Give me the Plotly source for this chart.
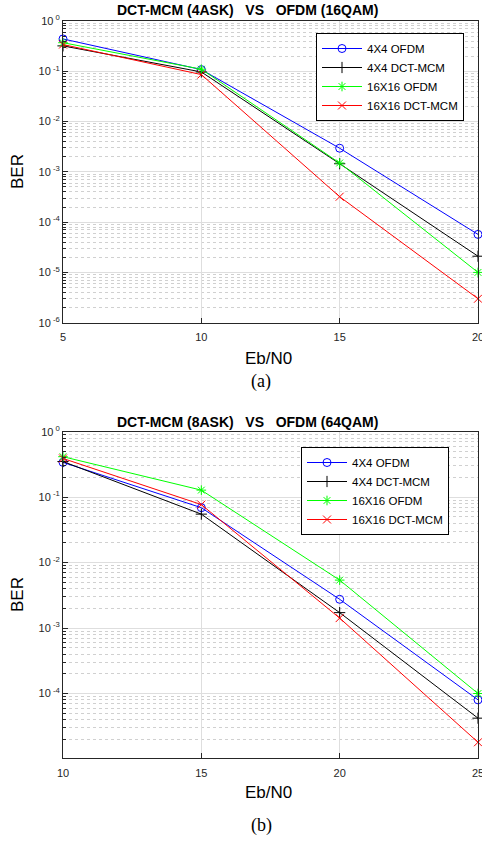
import plotly.graph_objects as go

# ---------------- data ----------------
series_names = ["4X4 OFDM", "4X4 DCT-MCM", "16X16 OFDM", "16X16 DCT-MCM"]
series_colors = ["#0000ff", "#000000", "#00ff00", "#ff0000"]
series_symbols = ["circle-open", "cross-thin", "asterisk-open", "x-thin"]

ebn0_a = [5, 10, 15, 20]
ber_a_ofdm4 = [0.44, 0.108, 2.95e-3, 5.7e-5]
ber_a_dct4 = [0.32, 0.097, 1.45e-3, 2.1e-5]
ber_a_ofdm16 = [0.37, 0.110, 1.50e-3, 1.0e-5]
ber_a_dct16 = [0.34, 0.086, 3.2e-4, 3.0e-6]

ebn0_b = [10, 15, 20, 25]
ber_b_ofdm4 = [0.34, 0.069, 2.75e-3, 8.0e-5]
ber_b_dct4 = [0.35, 0.055, 1.72e-3, 4.2e-5]
ber_b_ofdm16 = [0.415, 0.128, 5.4e-3, 1.0e-4]
ber_b_dct16 = [0.39, 0.077, 1.42e-3, 1.8e-5]

title_a = "DCT-MCM (4ASK)   VS   OFDM (16QAM)"
title_b = "DCT-MCM (8ASK)   VS   OFDM (64QAM)"
caption_a = "(a)"
caption_b = "(b)"
x_label = "Eb/N0"
y_label = "BER"

ytick_exps_a = [0, -1, -2, -3, -4, -5, -6]
ytick_exps_b = [0, -1, -2, -3, -4]
xticks_a = [5, 10, 15, 20]
xticks_b = [10, 15, 20, 25]

# ---------------- figure ----------------
W, H = 482, 842
fig = go.Figure()

panels = [
    (ebn0_a, [ber_a_ofdm4, ber_a_dct4, ber_a_ofdm16, ber_a_dct16], "x", "y", "legend"),
    (ebn0_b, [ber_b_ofdm4, ber_b_dct4, ber_b_ofdm16, ber_b_dct16], "x2", "y2", "legend2"),
]
for xs, ys_list, xa, ya, leg in panels:
    for name, col, sym, ys in zip(series_names, series_colors, series_symbols, ys_list):
        fig.add_trace(go.Scatter(
            x=xs, y=ys, name=name, xaxis=xa, yaxis=ya, legend=leg,
            mode="lines+markers", cliponaxis=False,
            line=dict(color=col, width=1),
            marker=dict(symbol=sym, size=8, color=col, line=dict(color=col, width=1)),
        ))

def px_x(p):
    return p / W

def px_y(p):
    return 1 - p / H

font_family = "Liberation Sans, Arial, Helvetica, sans-serif"
axis_color = "#262626"

def minor_vals(exps_lo, exps_hi):
    vals = []
    for e in range(exps_lo, exps_hi):
        for m in range(2, 10):
            vals.append(m * 10 ** e)
    return vals

def yaxis_cfg(exps, rng, dom, anchor):
    return dict(
        type="log", range=rng, domain=dom, anchor=anchor, automargin=False,
        tickvals=[10 ** e for e in exps],
        ticktext=["10<sup> %d</sup>" % e for e in exps],
        ticks="inside", ticklen=5, tickcolor=axis_color,
        ticklabeloverflow="allow",
        showline=True, linecolor=axis_color, linewidth=1, mirror=True,
        showgrid=True, gridcolor="#dedede", gridwidth=1,
        minor=dict(tickvals=minor_vals(min(exps) - 1, max(exps) + 1),
                   ticks="inside", ticklen=3, tickcolor=axis_color,
                   showgrid=True, gridcolor="#d0d0d0", griddash="dot", gridwidth=1),
        tickfont=dict(family=font_family, size=11, color=axis_color),
        zeroline=False,
    )

def xaxis_cfg(ticks, anchor, dom):
    return dict(
        range=[ticks[0], ticks[-1]], domain=dom, anchor=anchor, automargin=False,
        tickvals=ticks, ticks="inside", ticklen=5, tickcolor=axis_color,
        ticklabeloverflow="allow", ticklabelstandoff=4,
        showline=True, linecolor=axis_color, linewidth=1, mirror=True,
        showgrid=True, gridcolor="#dedede", gridwidth=1,
        tickfont=dict(family=font_family, size=11, color=axis_color),
        zeroline=False,
    )

xdom = [px_x(63), px_x(478)]
fig.update_layout(
    width=W, height=H,
    margin=dict(l=0, r=0, t=0, b=0, autoexpand=False),
    paper_bgcolor="white", plot_bgcolor="white",
    font=dict(family=font_family, color="#000000"),
    xaxis=xaxis_cfg(xticks_a, "y", xdom),
    yaxis=yaxis_cfg(ytick_exps_a, [-6, 0], [px_y(322.7), px_y(21)], "x"),
    xaxis2=xaxis_cfg(xticks_b, "y2", xdom),
    yaxis2=yaxis_cfg(ytick_exps_b, [-4.99, 0], [px_y(758.3), px_y(431.7)], "x2"),
    legend=dict(x=px_x(316), y=px_y(33), xanchor="left", yanchor="top",
                bgcolor="white", bordercolor="#000000", borderwidth=1,
                font=dict(family=font_family, size=11.5), itemwidth=40,
                tracegroupgap=0),
    legend2=dict(x=px_x(301), y=px_y(447), xanchor="left", yanchor="top",
                 bgcolor="white", bordercolor="#000000", borderwidth=1,
                 font=dict(family=font_family, size=11.5), itemwidth=40,
                 tracegroupgap=0),
    showlegend=True,
)

def ann(text, x, y, size, bold=False, family=font_family, angle=0):
    fig.add_annotation(
        text=("<b>%s</b>" % text) if bold else text,
        x=px_x(x), y=px_y(y), xref="paper", yref="paper",
        xanchor="center", yanchor="middle", showarrow=False,
        textangle=angle, font=dict(family=family, size=size, color="#000000"),
    )

ann(title_a.replace(" ", "&nbsp;"), 248, 10, 14, bold=True)
ann(title_b.replace(" ", "&nbsp;"), 248, 422, 14, bold=True)
ann(x_label, 268, 358, 17)
ann(x_label, 268, 792, 17)
ann(y_label, 17, 172, 17, angle=-90)
ann(y_label, 17, 595, 17, angle=-90)
ann(caption_a, 261, 382, 18, family="Liberation Serif, Times New Roman, serif")
ann(caption_b, 261, 825, 18, family="Liberation Serif, Times New Roman, serif")

fig.write_html(
    "out.html",
    config={"displayModeBar": False},
    post_script="document.body.style.margin='0';document.body.style.overflow='hidden';",
)
